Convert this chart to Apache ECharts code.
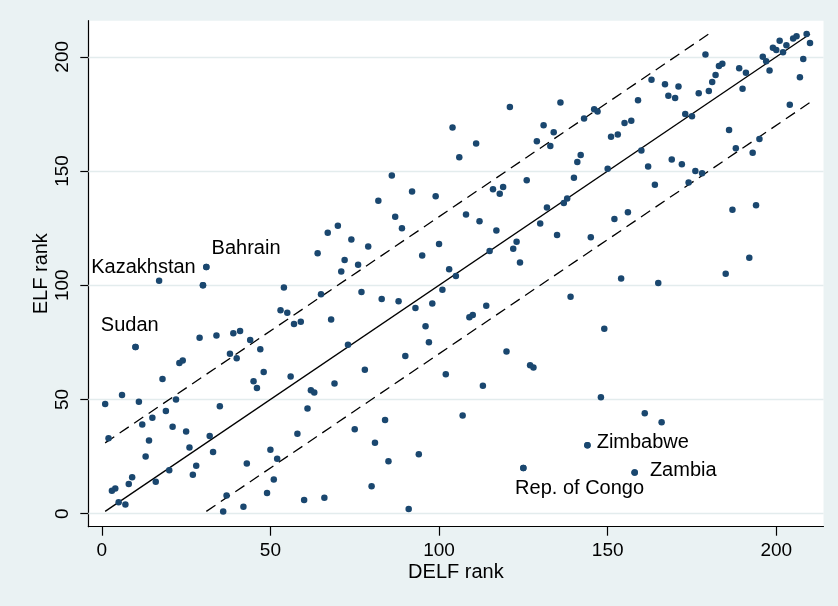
<!DOCTYPE html>
<html lang="en">
<head>
  <meta charset="UTF-8">
  <title>ELF vs DELF rank</title>
  <script src="https://cdn.jsdelivr.net/npm/echarts@6/dist/echarts.min.js"></script>
  <style type="text/css">
    html, body { margin: 0; padding: 0; background: #eaf2f3; }
    #chart { width: 838px; height: 606px; }
  </style>
</head>
<body>
<div id="chart"></div>
<script type="text/javascript">
// DELF rank (x) and ELF rank (y), one entry per country
var delfRank = [
  67, 64, 31,
  121, 136, 104, 131, 134, 129, 133, 111, 106, 142, 141, 140, 86, 126, 116, 119, 118,
  82, 92, 99, 138, 137, 87, 89, 108, 112, 132, 130, 117, 135, 70, 74, 79, 72, 76, 71,
  95, 100, 115, 123, 122, 124, 103,
  209, 206, 205, 201, 210, 203, 199, 200, 202, 179, 196, 197, 208, 198, 207, 184, 183,
  189, 191, 182, 181, 190, 180, 177, 163, 167, 171, 168, 170, 159, 146, 147, 143, 173,
  175, 155, 157, 151, 153, 160, 162, 164, 150, 169, 172, 176, 178, 174, 186, 188, 193,
  195, 204, 187, 194, 152, 156, 145, 192, 185,
  17, 30, 54, 65, 53, 55, 57, 59, 68, 10, 29, 34, 39, 41, 44, 47, 38, 40, 48, 45, 46,
  56, 62, 63, 69, 61, 23, 24, 18, 6, 1, 11, 22, 19, 15, 12, 21, 25, 2, 14, 26, 32, 35,
  33, 13, 28, 27, 20, 9, 8, 16, 4, 3, 5, 7, 43, 50, 52, 51, 49, 37, 42, 36, 58, 60, 66,
  105, 77, 83, 88, 101, 93, 98, 96, 97, 73, 90, 78, 102, 113, 109, 110, 114, 120, 127,
  128, 139, 84, 75, 107, 81, 85, 94, 80, 91, 125,
  154, 165, 149, 148, 161, 166, 144, 158
];
var elfRank = [
  123, 114, 108,
  178, 180, 169, 170, 167, 163, 161, 162, 156, 157, 154, 147, 148, 146, 142, 143, 140,
  137, 141, 139, 138, 136, 130, 125, 131, 128, 134, 127, 124, 122, 126, 120, 117, 111, 109, 106,
  113, 118, 115, 119, 116, 110, 107,
  210, 209, 208, 207, 206, 205, 204, 203, 202, 201, 200, 198, 199, 194, 191, 197, 196,
  195, 193, 192, 189, 186, 185, 184, 190, 188, 187, 183, 182, 181, 177, 176, 173, 175,
  174, 171, 172, 165, 166, 159, 152, 144, 151, 155, 153, 150, 149, 145, 168, 160, 158,
  164, 179, 133, 135, 129, 132, 121, 112, 105,
  102, 100, 99, 96, 89, 88, 83, 84, 85, 73, 77, 78, 79, 80, 76, 72, 70, 68, 62, 58, 55,
  60, 54, 53, 57, 46, 66, 67, 59, 52, 48, 49, 50, 45, 42, 39, 38, 36, 33, 32, 29, 34, 47,
  27, 25, 21, 17, 19, 16, 13, 14, 11, 10, 5, 4, 22, 28, 24, 15, 9, 8, 3, 1, 35, 6, 7,
  104, 97, 94, 93, 98, 90, 92, 82, 75, 74, 69, 63, 61, 56, 86, 87, 91, 71, 65,
  64, 95, 41, 37, 43, 31, 23, 26, 12, 2, 20,
  103, 101, 81, 51, 44, 40, 30, 18
];

// countries named on the chart
var labelNames = ['Bahrain', 'Kazakhstan', 'Sudan', 'Zimbabwe', 'Zambia', 'Rep. of Congo'];
var labelDelf = [31, 30, 10, 144, 158, 125];
var labelElf = [108, 100, 73, 30, 18, 20];

// reference lines: 45 degree line and +/- 30 rank bands
var diagLine = [[1, 1], [210, 210]];
var upperBand = [[1, 31], [180, 210]];
var lowerBand = [[31, 1], [210, 180]];

var tickValues = [0, 50, 100, 150, 200];

var navy = '#1a476f';
var font = '"Liberation Sans", Arial, sans-serif';

// label placement around each named point
var labelPlace = {
  'Bahrain':       {position: [8.5, -15], align: 'left'},
  'Kazakhstan':    {position: [-4, -15], align: 'right'},
  'Sudan':         {position: [-2.5, -18], align: 'center'},
  'Zimbabwe':      {position: [12.5, 1], align: 'left'},
  'Zambia':        {position: [18.5, 1.5], align: 'left'},
  'Rep. of Congo': {position: [-5, 24], align: 'left'}
};

var points = [];
for (var i = 0; i < delfRank.length; i++) {
  points.push([delfRank[i], elfRank[i]]);
}

var labelled = [];
for (var j = 0; j < labelNames.length; j++) {
  var p = labelPlace[labelNames[j]];
  labelled.push({
    value: [labelDelf[j], labelElf[j]],
    name: labelNames[j],
    label: {
      show: true,
      formatter: labelNames[j],
      position: p.position,
      align: p.align,
      verticalAlign: 'middle',
      fontSize: 20,
      fontFamily: font,
      color: '#000'
    }
  });
}

var gridMarks = tickValues.map(function (v) { return {yAxis: v}; });

var dom = document.getElementById('chart');
var myChart = echarts.init(dom, null, {renderer: 'canvas'});

var option = {
  animation: false,
  backgroundColor: '#eaf2f3',
  grid: {
    left: 88.3,
    right: 14.5,
    top: 20.7,
    bottom: 79.3,
    show: true,
    backgroundColor: '#ffffff',
    borderWidth: 0
  },
  xAxis: {
    type: 'value',
    min: -4,
    max: 214,
    name: 'DELF rank',
    nameLocation: 'middle',
    nameGap: 36,
    nameMoveOverlap: false,
    nameTextStyle: {fontSize: 20, fontFamily: font, color: '#000'},
    axisLine: {show: true, onZero: false, lineStyle: {color: '#000', width: 1.2}},
    axisTick: {show: true, length: 9, customValues: tickValues, lineStyle: {color: '#000', width: 1.2}},
    axisLabel: {customValues: tickValues, fontSize: 19, fontFamily: font, color: '#000', margin: 15},
    splitLine: {show: false}
  },
  yAxis: {
    type: 'value',
    min: -5.7,
    max: 215.8,
    name: 'ELF rank',
    nameLocation: 'middle',
    nameGap: 37,
    nameMoveOverlap: false,
    nameTextStyle: {fontSize: 20, fontFamily: font, color: '#000'},
    axisLine: {show: true, onZero: false, lineStyle: {color: '#000', width: 1.2}},
    axisTick: {show: true, length: 8, customValues: tickValues, lineStyle: {color: '#000', width: 1.2}},
    axisLabel: {customValues: tickValues, rotate: 90, fontSize: 19, fontFamily: font, color: '#000', margin: 16},
    splitLine: {show: false}
  },
  series: [
    {
      // horizontal grid lines
      type: 'scatter',
      data: [],
      silent: true,
      z: 1,
      markLine: {
        silent: true,
        z: 1,
        symbol: 'none',
        label: {show: false},
        lineStyle: {color: '#e3eced', width: 1.3, type: 'solid'},
        data: gridMarks
      }
    },
    {
      type: 'line',
      data: upperBand,
      symbol: 'none',
      silent: true,
      z: 2,
      lineStyle: {color: '#000', width: 1.3, type: [11, 6.5]}
    },
    {
      type: 'line',
      data: lowerBand,
      symbol: 'none',
      silent: true,
      z: 2,
      lineStyle: {color: '#000', width: 1.3, type: [11, 6.5]}
    },
    {
      type: 'line',
      data: diagLine,
      symbol: 'none',
      silent: true,
      z: 2,
      lineStyle: {color: '#000', width: 1.3}
    },
    {
      type: 'scatter',
      data: points,
      symbol: 'circle',
      symbolSize: 6.5,
      z: 3,
      itemStyle: {color: navy, opacity: 1}
    },
    {
      type: 'scatter',
      data: labelled,
      symbol: 'circle',
      symbolSize: 6.5,
      z: 4,
      itemStyle: {color: navy, opacity: 1}
    }
  ]
};
myChart.setOption(option);
</script>
</body>
</html>
